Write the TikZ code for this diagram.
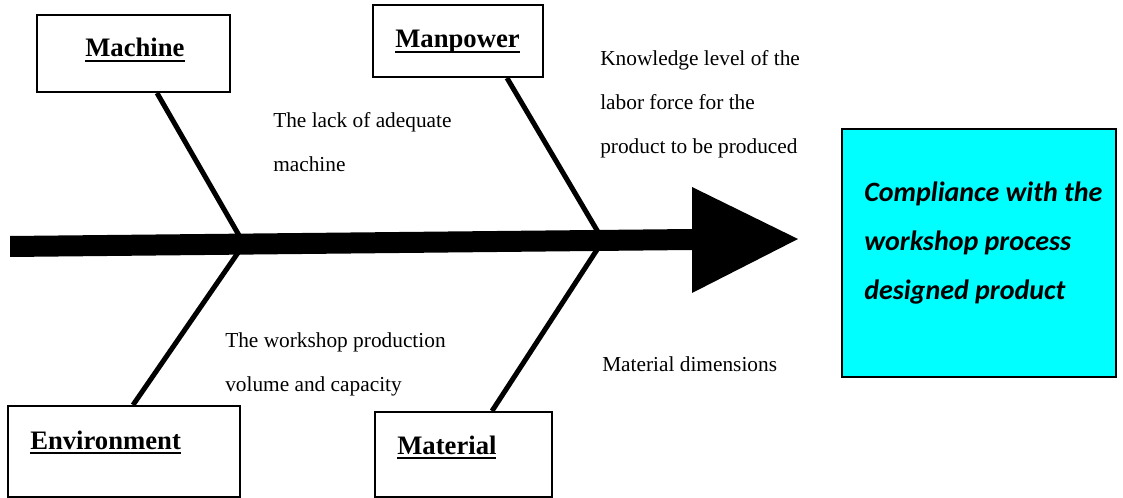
\documentclass[tikz,border=0pt]{standalone}
\usepackage{fontspec}
\setmainfont{Liberation Serif}
\newfontfamily\effectfont{Carlito}
\usetikzlibrary{calc}
\definecolor{effectcyan}{HTML}{00FFFF}
% underlined bold heading of a cause box
\newcommand{\headline}[1]{\setbox0\hbox{#1}\rlap{\rule[-4pt]{\wd0}{1.8pt}}\box0}

\begin{document}
\begin{tikzpicture}[x=0.75pt,y=-0.75pt,
  causebox/.style={draw=black, fill=white, line width=1.5pt, rectangle, inner sep=0pt},
  heading/.style={anchor=base west, inner sep=0pt, font=\fontsize{20}{24}\selectfont\bfseries},
  cause/.style={anchor=base west, inner sep=0pt, align=left, font=\fontsize{16}{33}\selectfont},
  bone/.style={line width=3.75pt},
]
\useasboundingbox (0,0) rectangle (1123,498);

% spine of the fishbone
\coordinate (tailtop) at (10,236);
\coordinate (tailbot) at (10,257);
\coordinate (necktop) at (692,229);
\coordinate (neckbot) at (692,250);
\coordinate (headtop) at (692,187);
\coordinate (tip) at (798,239);
\coordinate (headbot) at (692,293);
\coordinate (j1) at (244,244);
\coordinate (j2) at (603,240.5);

% cause boxes
\node[causebox, minimum width=144.75pt, minimum height=57.75pt] (machine) at (133.5,53.5) {};
\node[causebox, minimum width=127.5pt, minimum height=54pt] (manpower) at (458,41) {};
\node[causebox, minimum width=174pt, minimum height=68.25pt] (environment) at (124,451.5) {};
\node[causebox, minimum width=132.75pt, minimum height=63.75pt] (material) at (463.5,454.5) {};

% bones from the boxes to the spine
\draw[bone] ($(machine.south)+(23.5,0)$) -- (j1);
\draw[bone] ($(environment.north)+(9,0)$) -- (j1);
\draw[bone] ($(manpower.south)+(49,0)$) -- (j2);
\draw[bone] ($(material.north)+(28.5,0)$) -- (j2);

% redraw the boxes over the bone ends
\node[causebox, minimum width=144.75pt, minimum height=57.75pt] at (machine) {};
\node[causebox, minimum width=127.5pt, minimum height=54pt] at (manpower) {};
\node[causebox, minimum width=174pt, minimum height=68.25pt] at (environment) {};
\node[causebox, minimum width=132.75pt, minimum height=63.75pt] at (material) {};

\fill[black] (tailtop) -- (necktop) -- (headtop) -- (tip) -- (headbot) -- (neckbot) -- (tailbot) -- cycle;

% headings
\node[heading] (machinetext) at (85,57) {\headline{Machine}};
\node[heading] (manpowertext) at (395,48) {\headline{Manpower}};
\node[heading] (environmenttext) at (30,449) {\headline{Environment}};
\node[heading] (materialtext) at (397,454) {\headline{Material}};

% causes (anchored at the baseline of their last line)
\node[cause] (lack) at (273,172) {The lack of adequate\\machine};
\node[cause] (knowledge) at (600,154) {Knowledge level of the\\labor force for the\\product to be produced};
\node[cause] (volume) at (225,392) {The workshop production\\volume and capacity};
\node[cause] (dimensions) at (602,372) {Material dimensions};

% effect
\node[draw=black, fill=effectcyan, line width=1.5pt, rectangle, inner sep=0pt,
      minimum width=205.5pt, minimum height=186pt] (effect) at (979,253) {};
\node[anchor=base west, inner sep=0pt, align=left,
      font=\effectfont\fontsize{21}{36.75}\selectfont\bfseries\itshape] (effecttext) at (864,300)
  {Compliance with the\\workshop process\\designed product};
\end{tikzpicture}
\end{document}
